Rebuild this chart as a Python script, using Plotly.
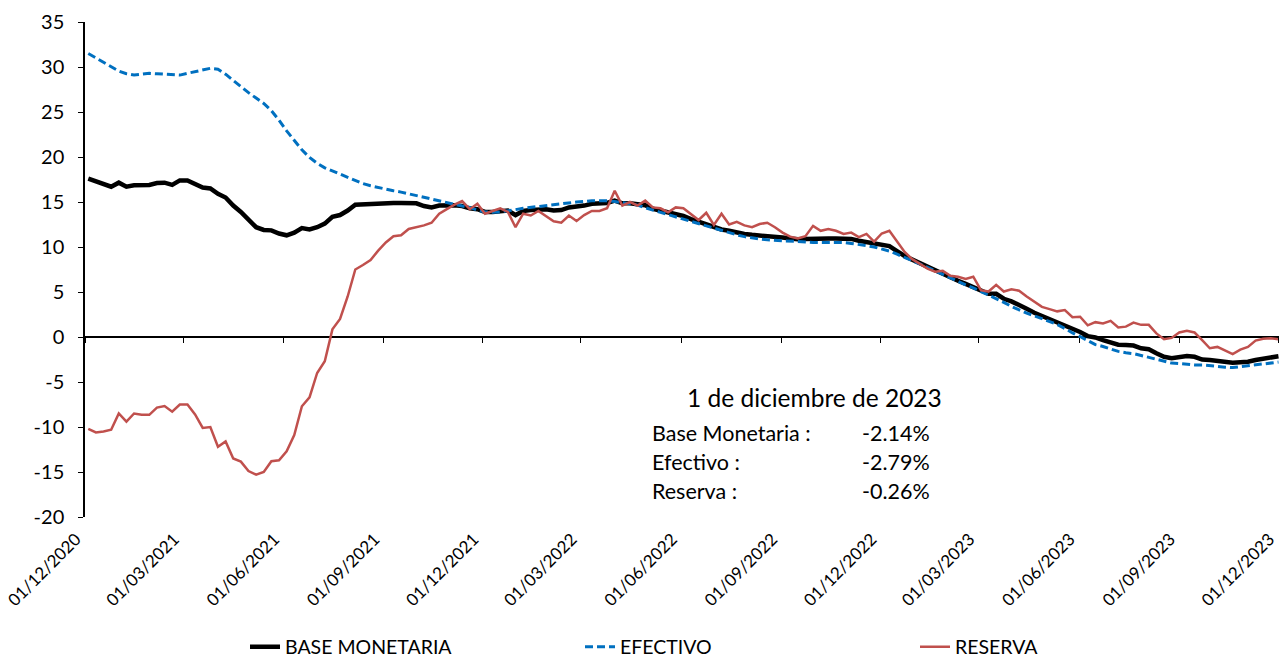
import pandas as pd
import plotly.graph_objects as go

# weekly observations, last one 1 Dec 2023
dates = pd.date_range(end="2023-12-01", periods=157, freq="7D")

base_monetaria = [
    17.6, 17.3, 17.0, 16.7, 17.15, 16.7, 16.85, 16.9, 16.9, 17.1,
    17.15, 16.9, 17.4, 17.4, 17.0, 16.6, 16.5, 15.9, 15.5, 14.6,
    13.9, 13.0, 12.2, 11.9, 11.85, 11.5, 11.3, 11.6, 12.1, 11.95,
    12.2, 12.6, 13.35, 13.55, 14.05, 14.7, 14.75, 14.75, 14.9, 14.9,
    14.9, 14.9, 14.9, 14.85, 14.55, 14.4, 14.6, 14.65, 14.65, 14.55,
    14.3, 14.2, 13.9, 13.9, 14.0, 14.05, 13.55, 14.0, 14.1, 14.2,
    14.2, 14.05, 14.1, 14.4, 14.45, 14.6, 14.8, 14.85, 14.9, 15.15,
    14.85, 14.85, 14.8, 14.65, 14.25, 14.05, 13.8, 13.6, 13.45, 13.1,
    12.8, 12.55, 12.25, 11.95, 11.8, 11.6, 11.45, 11.35, 11.3, 11.15,
    11.1, 11.05, 10.95, 10.85, 10.9, 10.95, 10.95, 10.95, 10.95, 10.95,
    10.9, 10.7, 10.55, 10.35, 10.25, 10.1, 9.55, 9.0, 8.6, 8.2,
    7.75, 7.35, 6.95, 6.6, 6.25, 5.9, 5.5, 5.15, 4.8, 4.8,
    4.25, 3.95, 3.6, 3.15, 2.7, 2.35, 1.95, 1.65, 1.3, 0.9,
    0.55, 0.1, -0.05, -0.35, -0.6, -0.85, -0.9, -0.95, -1.25, -1.35,
    -1.8, -2.2, -2.35, -2.2, -2.1, -2.2, -2.5, -2.55, -2.65, -2.8,
    -2.85, -2.8, -2.75, -2.55, -2.4, -2.2, -2.14,
]

efectivo = [
    31.5, 31.0, 30.5, 30.0, 29.55, 29.25, 29.1, 29.2, 29.3, 29.25,
    29.2, 29.1, 29.1, 29.3, 29.5, 29.7, 29.85, 29.75, 29.2, 28.5,
    27.8, 27.15, 26.55, 25.95, 25.15, 24.1, 22.9, 21.9, 20.8, 19.95,
    19.3, 18.8, 18.45, 18.05, 17.7, 17.4, 17.05, 16.8, 16.6, 16.4,
    16.25, 16.1, 15.9, 15.7, 15.5, 15.35, 15.15, 14.9, 14.7, 14.55,
    14.4, 14.1, 13.9, 13.85, 13.9, 14.0, 14.15, 14.3, 14.4, 14.5,
    14.6, 14.75, 14.85, 14.9, 15.0, 15.05, 15.15, 15.15, 15.15, 15.05,
    14.95, 14.8, 14.65, 14.35, 14.1, 13.85, 13.6, 13.35, 13.1, 12.85,
    12.6, 12.35, 12.1, 11.8, 11.6, 11.35, 11.15, 11.0, 10.9, 10.8,
    10.75, 10.7, 10.65, 10.55, 10.5, 10.5, 10.5, 10.5, 10.5, 10.5,
    10.4, 10.3, 10.15, 10.0, 9.8, 9.55, 9.2, 8.85, 8.5, 8.1,
    7.75, 7.35, 6.95, 6.55, 6.2, 5.8, 5.45, 5.05, 4.7, 4.3,
    3.85, 3.4, 3.0, 2.65, 2.35, 2.05, 1.75, 1.4, 0.95, 0.45,
    0.05, -0.4, -0.85, -1.05, -1.3, -1.6, -1.75, -1.85, -2.05, -2.25,
    -2.5, -2.7, -2.9, -2.95, -3.05, -3.1, -3.1, -3.2, -3.25, -3.35,
    -3.4, -3.3, -3.2, -3.1, -3.0, -2.85, -2.79,
]

reserva = [
    -10.2, -10.6, -10.5, -10.3, -8.5, -9.4, -8.5, -8.65, -8.65, -7.85,
    -7.67, -8.3, -7.5, -7.5, -8.6, -10.1, -10.0, -12.2, -11.6, -13.5,
    -13.85, -14.9, -15.3, -15.0, -13.8, -13.7, -12.7, -10.9, -7.7, -6.7,
    -4.0, -2.7, 0.85, 2.0, 4.5, 7.5, 8.0, 8.55, 9.6, 10.5,
    11.2, 11.3, 12.0, 12.2, 12.4, 12.7, 13.7, 14.2, 14.7, 15.1,
    14.2, 14.8, 13.7, 14.0, 14.3, 13.9, 12.2, 13.7, 13.5, 14.0,
    13.4, 12.85, 12.7, 13.5, 12.9, 13.55, 14.0, 14.0, 14.3, 16.25,
    14.6, 15.0, 14.6, 15.15, 14.4, 14.3, 13.85, 14.4, 14.3, 13.7,
    13.0, 13.8, 12.45, 13.7, 12.5, 12.8, 12.4, 12.2, 12.55, 12.7,
    12.2, 11.6, 11.15, 10.95, 11.2, 12.35, 11.8, 12.0, 11.8, 11.45,
    11.6, 11.1, 11.45, 10.6, 11.5, 11.8, 10.55, 9.45, 8.65, 8.1,
    7.6, 7.25, 7.35, 6.8, 6.7, 6.45, 6.7, 5.2, 5.05, 5.8,
    5.05, 5.3, 5.15, 4.5, 3.9, 3.35, 3.1, 2.85, 3.0, 2.2,
    2.25, 1.3, 1.65, 1.5, 1.8, 1.05, 1.15, 1.6, 1.35, 1.35,
    0.4, -0.25, -0.1, 0.5, 0.7, 0.5, -0.35, -1.25, -1.1, -1.5,
    -1.9, -1.4, -1.1, -0.4, -0.2, -0.15, -0.26,
]

tick_dates = pd.date_range("2020-12-01", "2023-12-01", freq="3MS")
tick_labels = [d.strftime("%d/%m/%Y") for d in tick_dates]
y_ticks = list(range(-20, 40, 5))
y_labels = [str(v) for v in y_ticks]  # plain hyphen, as in the source

FONT = "Lato"

fig = go.Figure()

fig.add_trace(go.Scatter(
    x=dates, y=base_monetaria, mode="lines", name="BASE MONETARIA",
    line=dict(color="#000000", width=4.5),
))
fig.add_trace(go.Scatter(
    x=dates, y=efectivo, mode="lines", name="EFECTIVO",
    line=dict(color="#0070C0", width=3, dash="8px,4px"),
))
fig.add_trace(go.Scatter(
    x=dates, y=reserva, mode="lines", name="RESERVA",
    line=dict(color="#C0504D", width=2.5),
))
# carrier for the tick marks drawn on the zero line
fig.add_trace(go.Scatter(
    x=dates, y=reserva, mode="lines", xaxis="x2", showlegend=False,
    line=dict(color="rgba(0,0,0,0)", width=0), hoverinfo="skip",
))

# summary box
fig.add_annotation(
    x=0.611, y=0.2424, xref="paper", yref="paper", showarrow=False,
    xanchor="center", yanchor="middle",
    text="1 de diciembre de 2023", font=dict(size=24.5, color="#000"),
)
rows = [("Base Monetaria :", base_monetaria[-1]),
        ("Efectivo :", efectivo[-1]),
        ("Reserva :", reserva[-1])]
row_y = [0.1697, 0.111, 0.0525]
for (label, val), yy in zip(rows, row_y):
    fig.add_annotation(x=0.473, y=yy, xref="paper", yref="paper", showarrow=False,
                       xanchor="left", yanchor="middle",
                       text=label, font=dict(size=21.5, color="#000"))
    fig.add_annotation(x=0.7095, y=yy, xref="paper", yref="paper", showarrow=False,
                       xanchor="right", yanchor="middle",
                       text=f"{val:.2f}%", font=dict(size=21.5, color="#000"))

x_range = ["2020-12-01", "2023-12-01 12:00"]

fig.update_layout(
    width=1282, height=662,
    paper_bgcolor="white", plot_bgcolor="white",
    font=dict(family=FONT, size=17, color="#000"),
    margin=dict(l=85, r=3, t=22, b=145, autoexpand=False),
    showlegend=True,
    legend=dict(orientation="h", x=(245 - 85) / 1194, xanchor="left",
                yref="container", y=15 / 662, yanchor="middle",
                entrywidth=290, font=dict(size=19.5), bgcolor="rgba(0,0,0,0)"),
    xaxis=dict(
        range=x_range, tickvals=tick_dates, ticktext=tick_labels,
        tickangle=-45, ticks="", showline=False, showgrid=False, zeroline=False,
        tickfont=dict(size=17), automargin=False, ticklabeloverflow="allow",
        ticklabelstandoff=8, ticklabelshift=-9,
    ),
    xaxis2=dict(
        overlaying="x", matches="x", anchor="free", position=20 / 55,
        tickvals=tick_dates, ticks="outside", ticklen=5, tickcolor="#000",
        showticklabels=False, showline=False, showgrid=False, zeroline=False,
    ),
    yaxis=dict(
        range=[-20, 35], tickvals=y_ticks, ticktext=y_labels, showgrid=False,
        showline=True, linecolor="#000", linewidth=1.5,
        ticks="outside", ticklen=5, tickcolor="#000",
        zeroline=True, zerolinecolor="#000", zerolinewidth=1.5,
        tickfont=dict(size=20), automargin=False, ticklabelstandoff=10,
    ),
)

# the page body has a default margin; drop it so the figure fills the window
fig.write_html("out.html", config={"displayModeBar": False},
               post_script="document.body.style.margin = '0';")
